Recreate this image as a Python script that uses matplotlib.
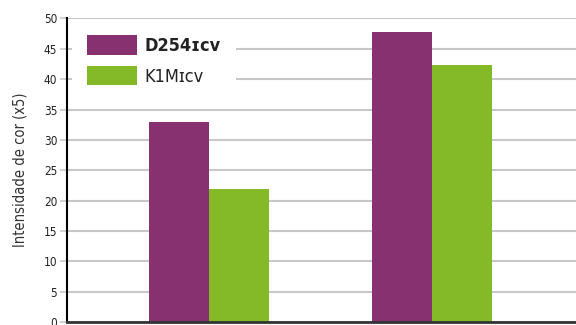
import numpy as np
import matplotlib.pyplot as plt

# values
groups = ["A", "B"]
d254 = [33.0, 47.8]
k1m = [21.9, 42.4]
labels = ["D254ɪᴄᴠ", "K1Mɪᴄᴠ"]
yticks = [0, 5, 10, 15, 20, 25, 30, 35, 40, 45, 50]

purple = "#873171"
green = "#84ba27"

plt.rcParams['font.family'] = ['DejaVu Sans']

fig = plt.figure(figsize=(5.76, 3.25), dpi=100)
ax = fig.add_axes([0.1163, 0.0092, 0.8837, 0.934])

x = np.arange(len(groups))
w = 0.27
ax.bar(x - w / 2, d254, w, color=purple, label=labels[0], zorder=2)
ax.bar(x + w / 2, k1m, w, color=green, label=labels[1], zorder=2)

ax.set_ylim(0, 50)
ax.set_xlim(-0.64, 1.65)
ax.set_yticks(yticks)
ax.set_xticks([])
ax.yaxis.grid(True, color="#c8c8c8", linewidth=1.5, zorder=0)
ax.set_axisbelow(True)

for s in ["top", "right"]:
    ax.spines[s].set_visible(False)
ax.spines["left"].set_color("black")
ax.spines["left"].set_linewidth(1.5)
ax.spines["bottom"].set_color("#333333")
ax.spines["bottom"].set_linewidth(2)

ax.tick_params(axis="y", length=5, width=1.2, color="#c8c8c8", labelsize=8.5,
               pad=2, labelcolor="#222222")
for t in ax.get_yticklabels():
    t.set_fontstretch("condensed")

ax.set_ylabel("Intensidade de cor (x5)", fontsize=10.5, color="#333333",
              fontstretch="condensed")
ax.yaxis.set_label_coords(-0.077, 0.5)

leg = ax.legend(loc="upper left", bbox_to_anchor=(0.0, 1.01), frameon=True,
                facecolor="white", edgecolor="none", framealpha=1,
                fontsize=13, handlelength=2.77, handleheight=1.25,
                handletextpad=0.42, labelspacing=0.62, borderpad=0.83,
                borderaxespad=0.28)
leg.get_texts()[0].set_fontweight("bold")
for t in leg.get_texts():
    t.set_fontstretch("condensed")
    t.set_color("#222222")
leg.set_zorder(3)

fig.savefig("out.png", dpi=100)
